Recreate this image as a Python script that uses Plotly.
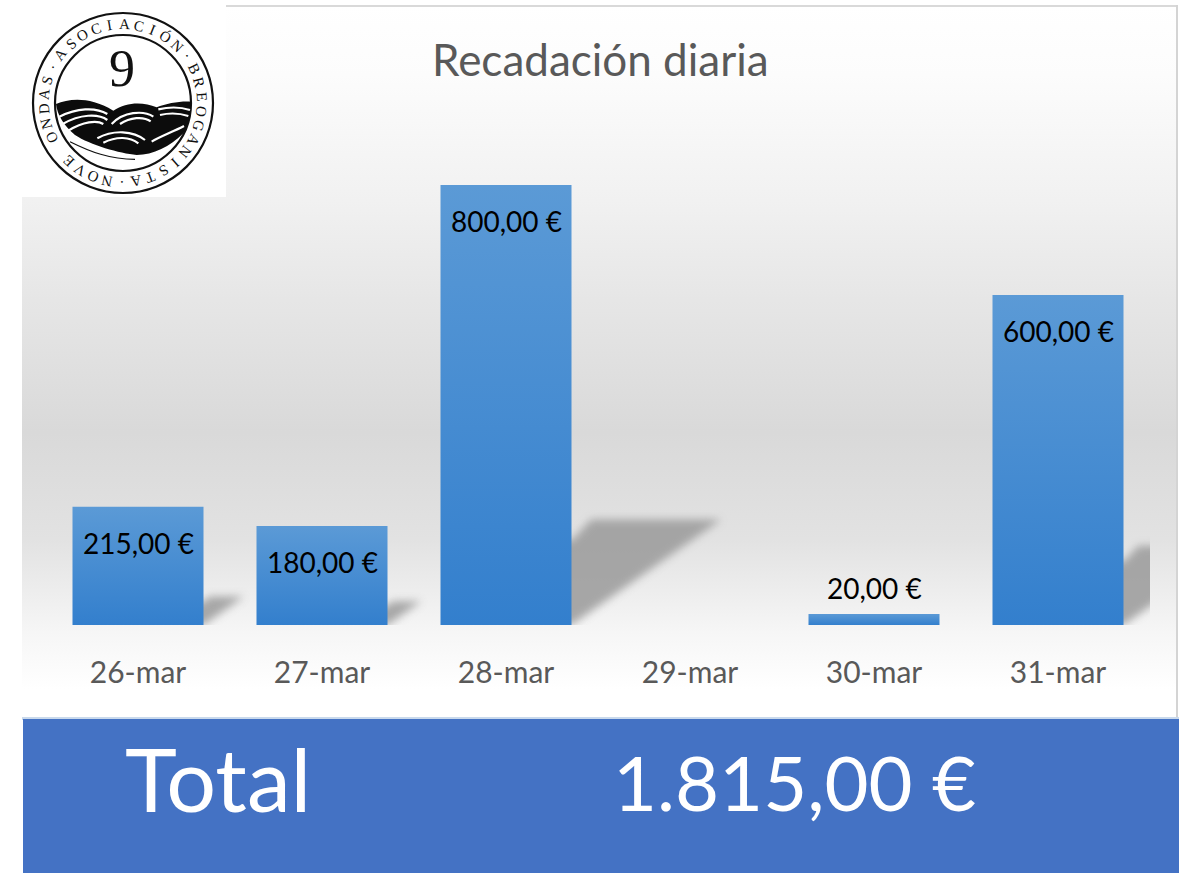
import base64
import math
import plotly.graph_objects as go

categories = ["26-mar", "27-mar", "28-mar", "29-mar", "30-mar", "31-mar"]
values = [215, 180, 800, 0, 20, 600]
title_text = "Recadación diaria"
total_label = "Total"
ring_text = "ASOCIACIÓN·BREOGANISTA·NOVE ONDAS·"

L, R, T, B = 46, 50, 185, 265   # plot margins in pixels
PW, PH = 1200 - L - R, 890 - T - B
FONT = "Lato"


def eur(v):
    s = f"{v:,.2f}".replace(",", "X").replace(".", ",").replace("X", ".")
    return s + " €"


def px(x):
    return (x - L) / PW


def py(y):
    return (890 - B - y) / PH


bg_svg = """<svg xmlns="http://www.w3.org/2000/svg" width="1200" height="890" viewBox="0 0 1200 890">
<defs><linearGradient id="g" x1="0" y1="0" x2="0" y2="1">
<stop offset="0" stop-color="#ffffff"/><stop offset="0.10" stop-color="#fcfcfc"/>
<stop offset="0.275" stop-color="#f1f1f1"/><stop offset="0.415" stop-color="#e6e6e6"/>
<stop offset="0.60" stop-color="#d9d9d9"/>
<stop offset="0.75" stop-color="#e2e2e2"/><stop offset="0.88" stop-color="#f6f6f6"/>
<stop offset="0.96" stop-color="#ffffff"/><stop offset="1" stop-color="#ffffff"/>
</linearGradient></defs>
<rect width="1200" height="890" fill="#ffffff"/>
<rect x="22" y="4" width="1156" height="714" fill="url(#g)"/>
<rect x="226" y="5" width="952" height="2" fill="#d9d9d9"/>
<rect x="1176" y="5" width="2" height="713" fill="#d4d4d4"/>
<rect x="22" y="0" width="204" height="197" fill="#ffffff"/>
<rect x="22" y="717" width="1157" height="3" fill="#c9d9ec"/>
</svg>"""
bg_uri = "data:image/svg+xml;base64," + base64.b64encode(bg_svg.encode()).decode()

fig = go.Figure(
    go.Bar(x=categories, y=values, width=131 / 184, marker=dict(color="#4a8fd2", line=dict(width=0)),
           hoverinfo="skip")
)

shapes = []
# Cast shadows, in data coordinates so they follow the values
for i, v in enumerate(values):
    if v < 100:
        continue
    right = i + 0.5 * 131 / 184
    rise = v * 0.24
    run = v * 0.34 * 0.55 / 184
    back = v * 0.045 * 0.55 / 184
    under = 0.05
    path = (f"M {right - under} 0 L {right} 0 L {right + run} {rise} L {right + back} {rise} "
            f"L {right} {rise * 0.8} L {right - under} {rise * 0.8} Z")
    shapes.append(dict(type="path", path=path, xref="x", yref="y", layer="below",
                       fillcolor="#9a9a9a", opacity=0.85, line=dict(width=0)))

# Total band
shapes.append(dict(type="rect", xref="paper", yref="paper", x0=px(23), x1=px(1179), y0=py(873), y1=py(719),
                   fillcolor="#4472c4", line=dict(width=0), layer="above"))

# Logo: ring
CX, CY = 123, 103


def circle(r, width):
    shapes.append(dict(type="circle", xref="paper", yref="paper", x0=px(CX - r), x1=px(CX + r),
                       y0=py(CY + r), y1=py(CY - r), line=dict(color="#111111", width=width),
                       fillcolor="rgba(0,0,0,0)", layer="above"))


circle(90, 2.2)
circle(68, 2.2)


def zpath(cmds, fill, stroke=None, w=0):
    # logo artwork, written in the coordinates of a 3x view of the emblem
    out = []
    for c in cmds:
        if isinstance(c, str):
            out.append(c)
        else:
            out.append(f"{px(c[0] / 3 + 20):.5f} {py(c[1] / 3):.5f}")
    shapes.append(dict(type="path", path=" ".join(out), xref="paper", yref="paper", layer="above",
                       fillcolor=fill, line=dict(color=stroke or "rgba(0,0,0,0)", width=w)))


zpath(["M", (108, 312), "C", (150, 295), (210, 290), (280, 332), "C", (320, 305), (370, 305), (410, 322),
       "C", (440, 310), (480, 303), (512, 305), "C", (516, 345), (505, 375), (490, 400),
       "C", (450, 440), (400, 465), (350, 465), "C", (300, 460), (210, 435), (165, 405),
       "C", (130, 375), (112, 345), (108, 312), "Z"], "#0c0c0c")
for arc in [
    [(118, 350), (170, 325), (225, 320), (262, 342)],
    [(128, 372), (180, 342), (235, 340), (262, 360)],
    [(145, 392), (190, 365), (230, 360), (250, 372)],
    [(275, 372), (310, 335), (370, 330), (400, 350)],
    [(300, 372), (330, 352), (370, 348), (392, 364)],
    [(232, 415), (280, 388), (340, 392), (375, 420)],
    [(250, 428), (290, 408), (330, 410), (355, 430)],
    [(415, 328), (450, 320), (485, 322), (510, 330)],
    [(420, 345), (450, 338), (480, 340), (505, 348)],
    [(395, 425), (420, 410), (460, 395), (492, 378)],
    [(170, 420), (220, 440), (290, 470), (330, 478)],
]:
    zpath(["M", arc[0], "C", arc[1], arc[2], arc[3]], "rgba(0,0,0,0)", "#ffffff", 2.2)
zpath(["M", (150, 425), "C", (210, 455), (270, 478), (345, 478)], "rgba(0,0,0,0)", "#111111", 1.2)


def label(text, x, y, family, size, color, angle=0):
    return dict(text=text, xref="paper", yref="paper", x=px(x), y=py(y), showarrow=False,
                xanchor="center", yanchor="middle", textangle=angle,
                font=dict(family=family, size=size, color=color))


annotations = [
    label(title_text, 600, 59, FONT, 44, "#595959"),
    label(total_label, 218, 778, FONT, 88, "#ffffff"),
    label(eur(sum(values)), 794, 781, FONT, 76, "#ffffff"),
    label("9", 122, 68, "Liberation Serif", 52, "#111111"),
]

# Data labels
for c, v in zip(categories, values):
    if v == 0:
        continue
    annotations.append(dict(text=eur(v), x=c, y=v, xref="x", yref="y", showarrow=False,
                            xanchor="center", yanchor="middle",
                            yshift=-36 if v > 100 else 26,
                            font=dict(family=FONT, size=28, color="#000000")))

# Emblem ring lettering
start, step = -52.0, 360.0 / len(ring_text)
for k, ch in enumerate(ring_text):
    ang = start + k * step
    a = math.radians(ang)
    annotations.append(label(ch, CX + 79 * math.sin(a), CY - 79 * math.cos(a),
                             "Liberation Serif", 15, "#111111", ang))

fig.update_layout(
    width=1200, height=890, autosize=False,
    margin=dict(l=L, r=R, t=T, b=B, pad=0),
    paper_bgcolor="rgba(0,0,0,0)", plot_bgcolor="rgba(0,0,0,0)",
    showlegend=False, bargap=0.288,
    xaxis=dict(type="category", categoryorder="array", categoryarray=categories, range=[-0.5, 5.5],
               showgrid=False, zeroline=False, showline=False, ticks="",
               ticklabelstandoff=27,
               tickfont=dict(family=FONT, size=30, color="#595959")),
    yaxis=dict(range=[0, 800], visible=False),
    shapes=shapes, annotations=annotations,
    images=[dict(source=bg_uri, xref="paper", yref="paper", x=px(0), y=py(0),
                 sizex=1200 / PW, sizey=890 / PH, sizing="stretch", xanchor="left", yanchor="top",
                 layer="below")],
)

post = """
document.body.style.margin='0';
document.documentElement.style.overflow='hidden';
var svg=document.querySelector('.main-svg');
var ns='http://www.w3.org/2000/svg';
var d=document.createElementNS(ns,'defs');
d.innerHTML='<linearGradient id="barGrad" x1="0" y1="0" x2="0" y2="1"><stop offset="0" stop-color="#5b9ad6"/><stop offset="1" stop-color="#337fcd"/></linearGradient>';
svg.insertBefore(d,svg.firstChild);
document.querySelectorAll('.bars .point path').forEach(function(p){p.style.fill='url(#barGrad)';});
document.querySelectorAll('.layer-subplot .shapelayer path').forEach(function(p){p.style.filter='blur(4px)';});
"""
fig.write_html("out.html", post_script=post, config={"displayModeBar": False})
